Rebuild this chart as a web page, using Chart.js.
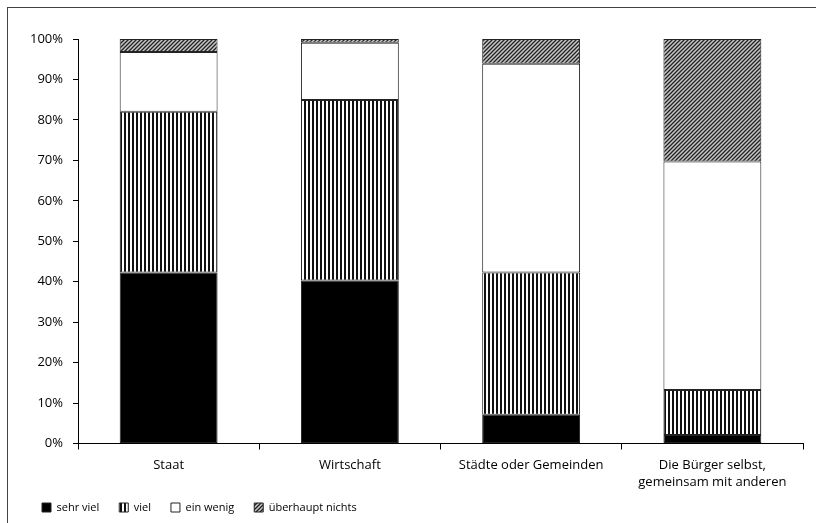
<!DOCTYPE html>
<html>
<head>
<meta charset="utf-8">
<script src="https://cdn.jsdelivr.net/npm/chart.js@4"></script>
<style>
  html, body { margin: 0; padding: 0; background: #fff; }
  #wrap { width: 816px; height: 523px; }
</style>
</head>
<body>
<div id="wrap"><canvas id="chart" width="816" height="523"></canvas></div>
<script>
// Data (percent of answers)
const categories = ["Staat", "Wirtschaft", "Städte oder Gemeinden", ["Die Bürger selbst,", "gemeinsam mit anderen"]];
const sehrViel = [42.3, 40.3, 7.1, 2.1];
const viel = [39.7, 44.6, 35.2, 11.1];
const einWenig = [14.8, 14.2, 51.6, 56.5];
const ueberhauptNichts = [3.2, 0.9, 6.1, 30.3];
const seriesNames = ["sehr viel", "viel", "ein wenig", "überhaupt nichts"];
const yTicks = [0, 10, 20, 30, 40, 50, 60, 70, 80, 90, 100];

const FONT = "'Open Sans', sans-serif";

// fill patterns
function stripes(){
  const c = document.createElement('canvas');
  c.width = 4; c.height = 4;
  const g = c.getContext('2d');
  g.fillStyle = '#fff'; g.fillRect(0,0,4,4);
  g.fillStyle = '#111'; g.fillRect(0,0,2,4);
  return g.createPattern(c, 'repeat');
}
function hatch(){
  const c = document.createElement('canvas');
  c.width = 4; c.height = 4;
  const g = c.getContext('2d');
  g.fillStyle = '#c8c8c8'; g.fillRect(0,0,4,4);
  g.strokeStyle = '#222'; g.lineWidth = 1.3;
  g.beginPath();
  g.moveTo(-1,5); g.lineTo(5,-1);
  g.moveTo(-1,1); g.lineTo(1,-1);
  g.moveTo(3,5); g.lineTo(5,3);
  g.stroke();
  return g.createPattern(c, 'repeat');
}

const fills = ['#000', stripes(), '#fff', hatch()];
const values = [sehrViel, viel, einWenig, ueberhauptNichts];

// outer frame + let the two-line x labels run below the axis box
const framePlugin = {
  id: 'frame',
  afterLayout(chart){
    const s = chart.scales.x;
    s.bottom = s.top + 60;
  },
  beforeDraw(chart){
    const ctx = chart.ctx;
    ctx.save();
    ctx.fillStyle = '#fff';
    ctx.fillRect(0,0,chart.width,chart.height);
    ctx.strokeStyle = '#444';
    ctx.lineWidth = 1;
    ctx.strokeRect(7.5, 7.5, 840, 540);
    ctx.restore();
  }
};

new Chart(document.getElementById('chart').getContext('2d'), {
  type: 'bar',
  data: {
    labels: categories,
    datasets: seriesNames.map((name, i) => ({
      label: name,
      data: values[i],
      backgroundColor: fills[i],
      borderColor: '#222',
      borderWidth: 1,
      borderSkipped: false,
      barPercentage: 0.54,
      categoryPercentage: 1
    }))
  },
  options: {
    responsive: false,
    animation: false,
    layout: { padding: { left: 22, right: 13, top: 39, bottom: 0 } },
    plugins: {
      tooltip: { enabled: false },
      legend: {
        position: 'bottom',
        align: 'start',
        labels: {
          boxWidth: 9, boxHeight: 9, padding: 20,
          color: '#000',
          font: { family: FONT, size: 11 }
        }
      }
    },
    scales: {
      x: {
        stacked: true,
        offset: true,
        grid: { display: true, offset: true, drawOnChartArea: false, tickLength: 6, color: '#000' },
        border: { color: '#000' },
        ticks: { color: '#000', padding: 8, maxRotation: 0, font: { family: FONT, size: 13, lineHeight: 1.25 } },
        afterFit(s){ s.height = 38.5; }
      },
      y: {
        stacked: true,
        min: 0, max: 100,
        afterBuildTicks(s){ s.ticks = yTicks.map(v => ({ value: v })); },
        grid: { display: true, drawOnChartArea: false, tickLength: 5, color: '#000' },
        border: { color: '#000' },
        ticks: { color: '#000', padding: 10, callback: v => v + '%', font: { family: FONT, size: 13 } },
        afterFit(s){ s.width = 56; }
      }
    }
  },
  plugins: [framePlugin]
});
</script>
</body>
</html>
